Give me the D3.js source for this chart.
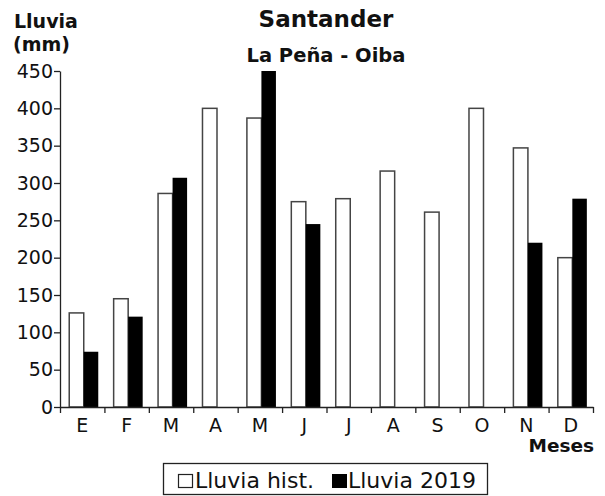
<!DOCTYPE html>
<html>
    <head>
        <meta charset="UTF-8" />
        <script src="https://cdn.jsdelivr.net/npm/d3@7"></script>
        <title>Santander - La Peña - Oiba</title>
        <style>
            body {
                margin: 0;
                background: white;
            }
            svg text {
                font-family: "DejaVu Sans", sans-serif;
                fill: #111;
            }
        </style>
    </head>
    <body>
        <div id="chart"></div>
        <script>
const meses = ["E", "F", "M", "A", "M", "J", "J", "A", "S", "O", "N", "D"];
const lluviaHist = [126, 145, 286, 400, 387, 275, 279, 316, 261, 400, 347, 200];
const lluvia2019 = [74, 121, 307, null, 450, 245, null, null, null, null, 220, 279];
const series = ["hist", "2019"];
const yTicks = [0, 50, 100, 150, 200, 250, 300, 350, 400, 450];

const w = 605;
const h = 496;
const mLeft = 60, mRight = 593, mTop = 71, mBottom = 407;

const svg = d3.select("#chart")
    .append("svg")
    .attr("width", w)
    .attr("height", h);

const x0 = d3.scaleBand()
    .domain(d3.range(meses.length))
    .range([mLeft, mRight])
    .padding(0);
const x1 = d3.scaleBand()
    .domain(series)
    .range([0, x0.bandwidth()])
    .paddingInner(0)
    .paddingOuter(0.53)
    .align(0.6);
const yScale = d3.scaleLinear()
    .domain([0, 450])
    .range([mBottom, mTop]);

const rows = meses.map((m, i) => ({i: i, hist: lluviaHist[i], y2019: lluvia2019[i]}));

// barras historicas
svg.selectAll("rect.hist").data(rows).enter()
    .append("rect").attr("class", "hist")
    .attr("x", d => x0(d.i) + x1("hist"))
    .attr("y", d => yScale(d.hist))
    .attr("width", x1.bandwidth())
    .attr("height", d => yScale(0) - yScale(d.hist))
    .attr("fill", "white")
    .attr("stroke", "#444")
    .attr("stroke-width", 1.5);

// barras 2019
svg.selectAll("rect.y2019").data(rows.filter(d => d.y2019 != null)).enter()
    .append("rect").attr("class", "y2019")
    .attr("x", d => x0(d.i) + x1("2019"))
    .attr("y", d => yScale(d.y2019))
    .attr("width", x1.bandwidth())
    .attr("height", d => yScale(0) - yScale(d.y2019))
    .attr("fill", "black");

// eje y
const yAxis = d3.axisLeft(yScale).tickValues(yTicks).tickSize(6).tickSizeOuter(0).tickPadding(1);
const gy = svg.append("g")
    .attr("transform", "translate(" + mLeft + ",0)")
    .call(yAxis);
gy.selectAll("text").style("font-size", "19px").attr("font-family", null);
gy.selectAll("line, path").attr("stroke", "#222").attr("stroke-width", 1.3);

// eje x: marcas en los limites de cada mes
const xLin = d3.scaleLinear().domain([0, meses.length]).range([mLeft, mRight]);
const gx = svg.append("g")
    .attr("transform", "translate(0," + mBottom + ")")
    .call(d3.axisBottom(xLin).ticks(12).tickSize(6).tickSizeOuter(0).tickFormat(""));
gx.selectAll("line, path").attr("stroke", "#222").attr("stroke-width", 1.3);

svg.append("g").selectAll("text").data(meses).enter()
    .append("text")
    .attr("x", (d, i) => x0(i) + x0.bandwidth() / 2)
    .attr("y", 432)
    .attr("text-anchor", "middle")
    .style("font-size", "19px")
    .text(d => d);

// titulos
svg.append("text").attr("x", 326).attr("y", 27).attr("text-anchor", "middle")
    .style("font-size", "23px").style("font-weight", "bold").text("Santander");
svg.append("text").attr("x", 326).attr("y", 62).attr("text-anchor", "middle")
    .style("font-size", "19.5px").style("font-weight", "bold").text("La Peña - Oiba");
svg.append("text").attr("x", 14).attr("y", 28)
    .style("font-size", "19px").style("font-weight", "bold").text("Lluvia");
svg.append("text").attr("x", 13).attr("y", 51)
    .style("font-size", "19px").style("font-weight", "bold").text("(mm)");
svg.append("text").attr("x", 594).attr("y", 452).attr("text-anchor", "end")
    .style("font-size", "18.5px").style("font-weight", "bold").text("Meses");

// leyenda
const leg = svg.append("g");
leg.append("rect").attr("x", 163.5).attr("y", 463.5).attr("width", 324).attr("height", 31)
    .attr("fill", "white").attr("stroke", "#222").attr("stroke-width", 1.3);
leg.append("rect").attr("x", 178.5).attr("y", 474.5).attr("width", 14).attr("height", 13)
    .attr("fill", "white").attr("stroke", "#222").attr("stroke-width", 1.2);
leg.append("text").attr("x", 195).attr("y", 488).style("font-size", "22px").text("Lluvia hist.");
leg.append("rect").attr("x", 332).attr("y", 474).attr("width", 15).attr("height", 14)
    .attr("fill", "black");
leg.append("text").attr("x", 348).attr("y", 488).style("font-size", "22px").text("Lluvia 2019");
        </script>
    </body>
</html>
